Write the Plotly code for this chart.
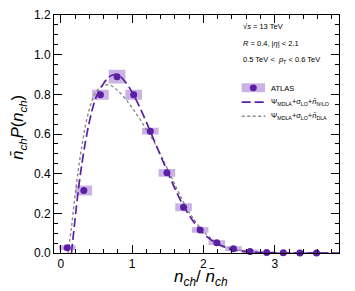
import plotly.graph_objects as go

# ---------------- data ----------------
x_atlas = [0.09, 0.323, 0.556, 0.789, 1.022, 1.255, 1.488, 1.721, 1.954, 2.187,
           2.42, 2.653, 2.886, 3.119, 3.352, 3.585]
y_atlas = [0.027, 0.315, 0.798, 0.889, 0.798, 0.614, 0.404, 0.231, 0.116, 0.052,
           0.022, 0.0074, 0.003, 0.001, 0.0005, 0.0002]
err_atlas = [0.012, 0.025, 0.025, 0.035, 0.025, 0.017, 0.019, 0.02, 0.014, 0.012,
             0.012, 0.01, 0.006, 0.005, 0.005, 0.005]
bin_width = 0.233

x_n3lo = [0.15, 0.20, 0.25, 0.30, 0.35, 0.40, 0.45, 0.50, 0.55, 0.60, 0.65, 0.70,
          0.75, 0.80, 0.85, 0.90, 0.95, 1.00, 1.10, 1.20, 1.30, 1.40, 1.50, 1.60,
          1.70, 1.80, 1.90, 2.00, 2.10, 2.20, 2.30, 2.40, 2.50, 2.60, 2.70, 2.80,
          3.00, 3.20, 3.50, 3.90]
y_n3lo = [0.0, 0.17, 0.33, 0.46, 0.57, 0.66, 0.735, 0.79, 0.825, 0.855, 0.878, 0.893,
          0.90, 0.898, 0.885, 0.865, 0.84, 0.81, 0.74, 0.66, 0.575, 0.49, 0.405, 0.325,
          0.25, 0.19, 0.14, 0.098, 0.068, 0.045, 0.029, 0.018, 0.011, 0.0065, 0.0035, 0.002,
          0.0005, 0.0001, 0.0, 0.0]

x_dla = [0.10, 0.15, 0.20, 0.25, 0.30, 0.35, 0.40, 0.45, 0.50, 0.55, 0.60, 0.65,
         0.70, 0.80, 0.90, 1.00, 1.10, 1.20, 1.30, 1.40, 1.50, 1.60, 1.70, 1.80,
         1.90, 2.00, 2.10, 2.20, 2.30, 2.40, 2.50, 2.60, 2.80, 3.00, 3.30, 3.90]
y_dla = [0.0, 0.13, 0.29, 0.43, 0.55, 0.65, 0.725, 0.78, 0.815, 0.835, 0.845, 0.848,
         0.845, 0.818, 0.78, 0.732, 0.68, 0.622, 0.565, 0.495, 0.42, 0.345, 0.27, 0.205,
         0.152, 0.108, 0.076, 0.052, 0.034, 0.022, 0.014, 0.008, 0.003, 0.001, 0.0003, 0.0]

x_ticks = [0, 1, 2, 3]
x_tick_labels = ["0", "1", "2", "3"]
y_ticks = [0.0, 0.2, 0.4, 0.6, 0.8, 1.0, 1.2]
y_tick_labels = ["0.0", "0.2", "0.4", "0.6", "0.8", "1.0", "1.2"]

label_atlas = "ATLAS"
label_n3lo = "Ψ<sub>MDLA</sub>+<i>σ</i><sub>LO</sub>+<i>n̄</i><sub>N³LO</sub>"
label_dla = "Ψ<sub>MDLA</sub>+<i>σ</i><sub>LO</sub>+<i>n̄</i><sub>DLA</sub>"
info_lines = ["√<i>s</i> = 13 TeV",
              "<i>R</i> = 0.4, |<i>η</i>| &lt; 2.1",
              "0.5 TeV &lt;  <i>p</i><sub>T</sub> &lt; 0.6 TeV"]

# ---------------- style ----------------
PURPLE = "#5a1fa3"
BOX = "#cbb2e4"
GRAY = "#8a8a8a"
FONT = "Liberation Sans"

fig = go.Figure()

# systematic boxes
bx, by = [], []
hw = bin_width / 2
for x, y, e in zip(x_atlas, y_atlas, err_atlas):
    bx += [x - hw, x + hw, x + hw, x - hw, x - hw, None]
    by += [y - e, y - e, y + e, y + e, y - e, None]
fig.add_trace(go.Scatter(x=bx, y=by, mode="lines", fill="toself", fillcolor=BOX,
                         line=dict(width=0), hoverinfo="skip", showlegend=False))

fig.add_trace(go.Scatter(x=x_dla, y=y_dla, mode="lines", line_shape="spline",
                         line=dict(color=GRAY, width=1.4, dash="3px,2.5px"),
                         showlegend=False))
fig.add_trace(go.Scatter(x=x_n3lo, y=y_n3lo, mode="lines", line_shape="spline",
                         line=dict(color=PURPLE, width=1.7, dash="9px,4px"),
                         showlegend=False))
fig.add_trace(go.Scatter(x=x_atlas, y=y_atlas, mode="markers",
                         marker=dict(color=PURPLE, size=7), showlegend=False,
                         cliponaxis=False))

W, H = 355, 291
L, R, T, B = 54, 16, 8, 38
pw, ph = W - L - R, H - T - B


def px(xs):
    return (xs - L) / pw


def py(ys):
    return (H - B - ys) / ph


# manual legend
fig.add_shape(type="rect", xref="paper", yref="paper",
              x0=px(241.7), x1=px(265), y0=py(87.5), y1=py(78.3),
              fillcolor=BOX, line=dict(width=0))
fig.add_shape(type="circle", xref="paper", yref="paper",
              x0=px(253.3 - 3.5), x1=px(253.3 + 3.5), y0=py(83 + 3.5), y1=py(83 - 3.5),
              fillcolor=PURPLE, line=dict(width=0))
fig.add_shape(type="line", xref="paper", yref="paper",
              x0=px(241.7), x1=px(265.5), y0=py(97.7), y1=py(97.7),
              line=dict(color=PURPLE, width=1.7, dash="9px,4px"))
fig.add_shape(type="line", xref="paper", yref="paper",
              x0=px(241.7), x1=px(265.5), y0=py(112.3), y1=py(112.3),
              line=dict(color=GRAY, width=1.4, dash="3px,2.5px"))

small = dict(family=FONT, size=7.5, color="black")
for txt, ypx in zip([label_atlas, label_n3lo, label_dla], [83.5, 97.7, 112.3]):
    fig.add_annotation(text=txt, xref="paper", yref="paper", x=px(269), y=py(ypx),
                       xanchor="left", yanchor="middle", showarrow=False, font=small)
for txt, ypx in zip(info_lines, [20, 37.3, 54.7]):
    fig.add_annotation(text=txt, xref="paper", yref="paper", x=px(240.5), y=py(ypx),
                       xanchor="left", yanchor="middle", showarrow=False, font=small)

# axis titles
fig.add_annotation(text="<i>n</i><sub><i>ch</i></sub>/ <i>n̄</i><sub><i>ch</i></sub>",
                   xref="paper", yref="paper", x=px(201), y=py(279),
                   xanchor="center", yanchor="middle", showarrow=False,
                   font=dict(family=FONT, size=17, color="black"))
fig.add_annotation(text="<i>n̄</i><sub><i>ch</i></sub><i>P</i>(<i>n</i><sub><i>ch</i></sub>)",
                   xref="paper", yref="paper", x=px(18), y=py(124),
                   xanchor="center", yanchor="middle", textangle=-90, showarrow=False,
                   font=dict(family=FONT, size=16.5, color="black"))

axis_common = dict(showline=True, linecolor="black", linewidth=1, mirror="allticks",
                   ticks="inside", ticklen=8, tickwidth=1, tickcolor="black",
                   showgrid=False, zeroline=False,
                   tickfont=dict(family=FONT, size=12, color="black"))

fig.update_layout(
    width=W, height=H,
    margin=dict(l=L, r=R, t=T, b=B, pad=0),
    plot_bgcolor="white", paper_bgcolor="white",
    xaxis=dict(range=[-0.095, 3.9], tickvals=x_ticks, ticktext=x_tick_labels,
               minor=dict(dtick=0.2, tick0=0, ticks="inside", ticklen=4,
                          tickcolor="black", showgrid=False),
               **axis_common),
    yaxis=dict(range=[0, 1.2], tickvals=y_ticks, ticktext=y_tick_labels,
               minor=dict(dtick=0.05, tick0=0, ticks="inside", ticklen=4,
                          tickcolor="black", showgrid=False),
               **axis_common),
    showlegend=False,
)

# remove the default 8px page margin so the figure fills the window exactly
fig.write_html("out.html", config={"displayModeBar": False},
               post_script="document.body.style.margin='0px';document.body.style.overflow='hidden';")
